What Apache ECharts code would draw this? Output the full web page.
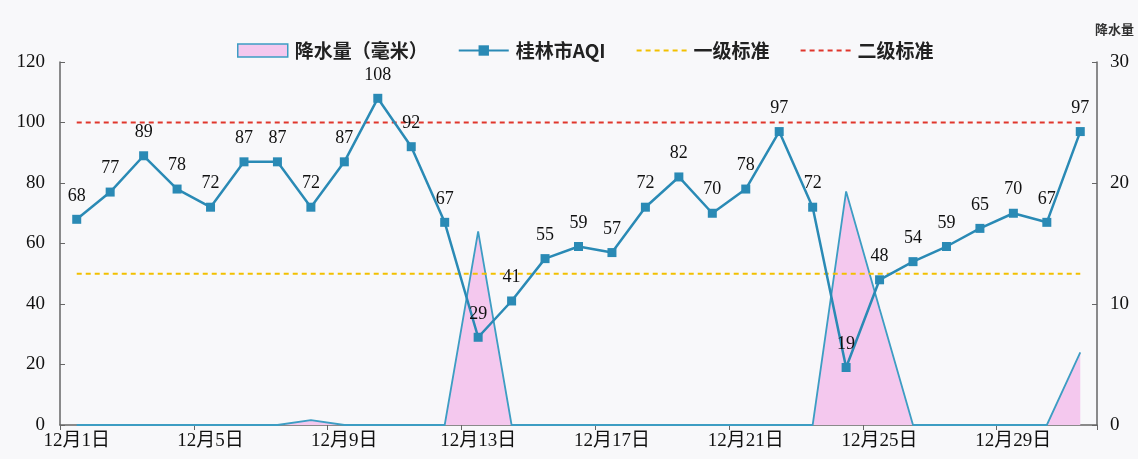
<!DOCTYPE html>
<html>
<head>
<meta charset="utf-8">
<script src="https://cdn.jsdelivr.net/npm/echarts@6/dist/echarts.min.js"></script>
<style>html,body{margin:0;padding:0;background:#f8f8fa;}#c{width:1138px;height:459px;}</style>
</head>
<body>
<div id="c"></div>
<script>
var days = [];
for (var i = 1; i <= 31; i++) days.push('12月' + i + '日');
var aqi = [68,77,89,78,72,87,87,72,87,108,92,67,29,41,55,59,57,72,82,70,78,97,72,19,48,54,59,65,70,67,97];
var rain = [0,0,0,0,0,0,0,0.4,0,0,0,0,16,0,0,0,0,0,0,0,0,0,0,19.3,9.6,0,0,0,0,0,6];
var std1 = [];
var std2 = [];
for (var j = 0; j < 31; j++) { std1.push(50); std2.push(100); }
var leftTicks = [0, 20, 40, 60, 80, 100, 120];
var rightTicks = [0, 10, 20, 30];

var serif = '"Liberation Serif", "Noto Sans CJK SC", serif';
var chart = echarts.init(document.getElementById('c'));
chart.setOption({
  backgroundColor: '#f8f8fa',
  animation: false,
  grid: {left: 60, right: 41, top: 62, bottom: 34},
  legend: {
    top: 36, left: 232, itemGap: 30, itemWidth: 50, itemHeight: 13,
    textStyle: {fontFamily: '"Noto Sans CJK SC", sans-serif', fontSize: 19, fontWeight: 'bold', color: '#222', padding: [0, 0, 0, 2]},
    data: [
      {name: '降水量（毫米）', icon: 'rect', itemStyle: {color: '#f4c8ee', borderColor: '#3d9dc3', borderWidth: 1.5}},
      {name: '桂林市AQI'},
      {name: '一级标准', itemStyle: {opacity: 0}},
      {name: '二级标准', itemStyle: {opacity: 0}}
    ]
  },
  xAxis: {
    type: 'category', data: days, boundaryGap: true,
    axisLine: {lineStyle: {color: '#666', width: 1.5}},
    axisTick: {show: true, interval: 3, length: 5, lineStyle: {color: '#666'}},
    axisLabel: {interval: 3, color: '#111', fontFamily: serif, fontSize: 19, margin: 7}
  },
  yAxis: [
    {type: 'value', min: 0, max: 120, interval: 20,
     axisLine: {show: true, lineStyle: {color: '#666', width: 1.5}},
     axisTick: {show: true, inside: true, length: 5, lineStyle: {color: '#666'}},
     splitLine: {show: false},
     axisLabel: {color: '#111', fontFamily: serif, fontSize: 19, margin: 15}},
    {type: 'value', min: 0, max: 30, interval: 10,
     name: '降水量', nameGap: 26, nameLocation: 'end',
     nameTextStyle: {fontFamily: '"Noto Sans CJK SC", sans-serif', fontSize: 13, fontWeight: 'bold', color: '#333', align: 'left', padding: [0, 0, 0, -2]},
     axisLine: {show: true, lineStyle: {color: '#666', width: 1.5}},
     axisTick: {show: true, inside: true, length: 5, lineStyle: {color: '#666'}},
     splitLine: {show: false},
     axisLabel: {color: '#111', fontFamily: serif, fontSize: 19, margin: 13}}
  ],
  series: [
    {name: '降水量（毫米）', type: 'line', yAxisIndex: 1, data: rain, symbol: 'none', z: 1,
     lineStyle: {color: '#3d9dc3', width: 1.8},
     itemStyle: {color: '#f4c8ee'},
     areaStyle: {color: '#f4c8ee', opacity: 1}},
    {name: '一级标准', type: 'line', data: std1, symbol: 'none', z: 2,
     lineStyle: {color: '#f2c000', width: 2, type: [5, 4]}, itemStyle: {color: '#f2c000'}},
    {name: '二级标准', type: 'line', data: std2, symbol: 'none', z: 2,
     lineStyle: {color: '#e0362c', width: 2, type: [5, 4]}, itemStyle: {color: '#e0362c'}},
    {name: '桂林市AQI', type: 'line', data: aqi, symbol: 'rect', symbolSize: 9, z: 3,
     lineStyle: {color: '#2a8ab5', width: 2.5}, itemStyle: {color: '#2a8ab5'},
     label: {show: true, position: 'top', distance: 10, color: '#111', fontFamily: serif, fontSize: 18}}
  ]
});
</script>
</body>
</html>
